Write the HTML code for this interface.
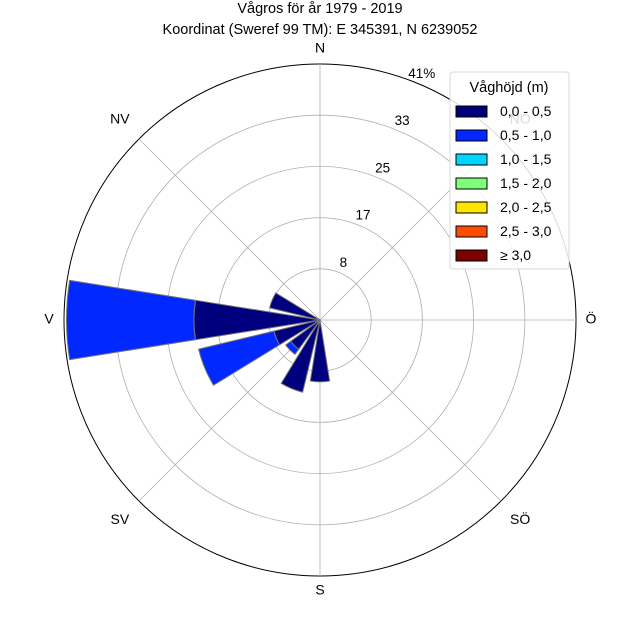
<!DOCTYPE html>
<html><head><meta charset="utf-8"><style>
html,body{margin:0;padding:0;background:#fff}
svg{display:block;font-family:"Liberation Sans",sans-serif}
</style></head><body>
<svg id="chart" width="640" height="640" viewBox="0 0 640 640">
<text x="320" y="13" font-size="14.5" text-anchor="middle">Vågros för år 1979 - 2019</text>
<text x="320" y="34" font-size="14.5" text-anchor="middle">Koordinat (Sweref 99 TM): E 345391, N 6239052</text>
<g id="grid"></g>
<g id="bars"></g>
<g id="labels"></g>
<g id="legend"></g>
</svg>
<script>
const directions = ["N","NNÖ","NÖ","ÖNÖ","Ö","ÖSÖ","SÖ","SSÖ","S","SSV","SV","VSV","V","VNV","NV","NNV"];
const binLabels = ["0,0 - 0,5","0,5 - 1,0","1,0 - 1,5","1,5 - 2,0","2,0 - 2,5","2,5 - 3,0","≥ 3,0"];
const binColors = ["#00007f","#0028ff","#00d4ff","#7dff7a","#ffe500","#ff4a00","#7f0000"];
const series0 = [0,0,0,0,0,0,0,0,9.9,11.9,5.8,7.6,20.2,8.3,0,0];
const series1 = [0,0,0,0,0,0,0,0,0,0,1.0,12.4,20.4,0,0,0];
const tickValues = [8.2,16.4,24.6,32.8,41];
const tickLabels = ["8","17","25","33","41%"];
const compassLabels = ["N","NÖ","Ö","SÖ","S","SV","V","NV"];
const rMax = 41;
const CX=320, CY=320, R=256;
const NS="http://www.w3.org/2000/svg";
function rScale(v){return v/rMax*R;}
function pt(angDeg,r){const a=angDeg*Math.PI/180;return [CX+r*Math.sin(a),CY-r*Math.cos(a)];}
function mk(tag,attrs,parent){const e=document.createElementNS(NS,tag);for(const k in attrs)e.setAttribute(k,attrs[k]);parent.appendChild(e);return e;}
const grid=document.getElementById('grid'), bars=document.getElementById('bars'), labels=document.getElementById('labels'), legend=document.getElementById('legend');
// rings
tickValues.forEach((v,i)=>{
  const c=mk('circle',{cx:CX,cy:CY,r:rScale(v),fill:'none',stroke:i===tickValues.length-1?'#000':'#b0b0b0','stroke-width':i===tickValues.length-1?1:0.8},grid);
  
  
});
for(let i=0;i<8;i++){
  const p=pt(i*45,R);
  const l=mk('line',{x1:CX,y1:CY,x2:p[0],y2:p[1],stroke:'#b0b0b0','stroke-width':0.8},grid);
  
  
}
// bars
const allSeries=[series0,series1];
const halfW=22.5*0.8/2;
function wedge(ang,r0,r1){
  const a=pt(ang-halfW,r0),b=pt(ang-halfW,r1),c=pt(ang+halfW,r1),d=pt(ang+halfW,r0);
  return `M${a[0]},${a[1]} L${b[0]},${b[1]} A${r1},${r1} 0 0 1 ${c[0]},${c[1]} L${d[0]},${d[1]} A${r0},${r0} 0 0 0 ${a[0]},${a[1]} Z`;
}
directions.forEach((d,i)=>{
  let base=0;
  allSeries.forEach((s,k)=>{
    const v=s[i]; if(!v) return;
    const p=mk('path',{d:wedge(i*22.5,rScale(base),rScale(base+v)),fill:binColors[k],stroke:'#777','stroke-width':1},bars);
    
    
    base+=v;
  });
});
// tick labels
tickValues.forEach((v,i)=>{
  const p=pt(22.5,rScale(v)+10);
  const t=mk('text',{x:p[0],y:p[1],'font-size':13.5,'text-anchor':'middle','dominant-baseline':'middle'},labels);
  t.textContent=tickLabels[i];
  
  
});
compassLabels.forEach((c,i)=>{
  const p=pt(i*45,R+15+ (i%2?12:0));
  const t=mk('text',{x:p[0],y:p[1],'font-size':14,'text-anchor':'middle','dominant-baseline':'middle'},labels);
  t.textContent=c;
  
  
});
// legend
const box=mk('rect',{x:450,y:72,width:119,height:197,rx:3,fill:'#fff','fill-opacity':0.85,stroke:'#d8d8d8'},legend);


const lt=mk('text',{x:509,y:92,'font-size':14.5,'text-anchor':'middle'},legend);
lt.textContent='Våghöjd (m)';


binLabels.forEach((b,i)=>{
  const y=111+i*24;
  const r=mk('rect',{x:456,y:y-5,width:31,height:11,fill:binColors[i],stroke:'#000','stroke-width':1},legend);
  
  
  const t=mk('text',{x:500,y:y+5,'font-size':14},legend);
  t.textContent=b;
  
  
});
</script>
</body></html>
